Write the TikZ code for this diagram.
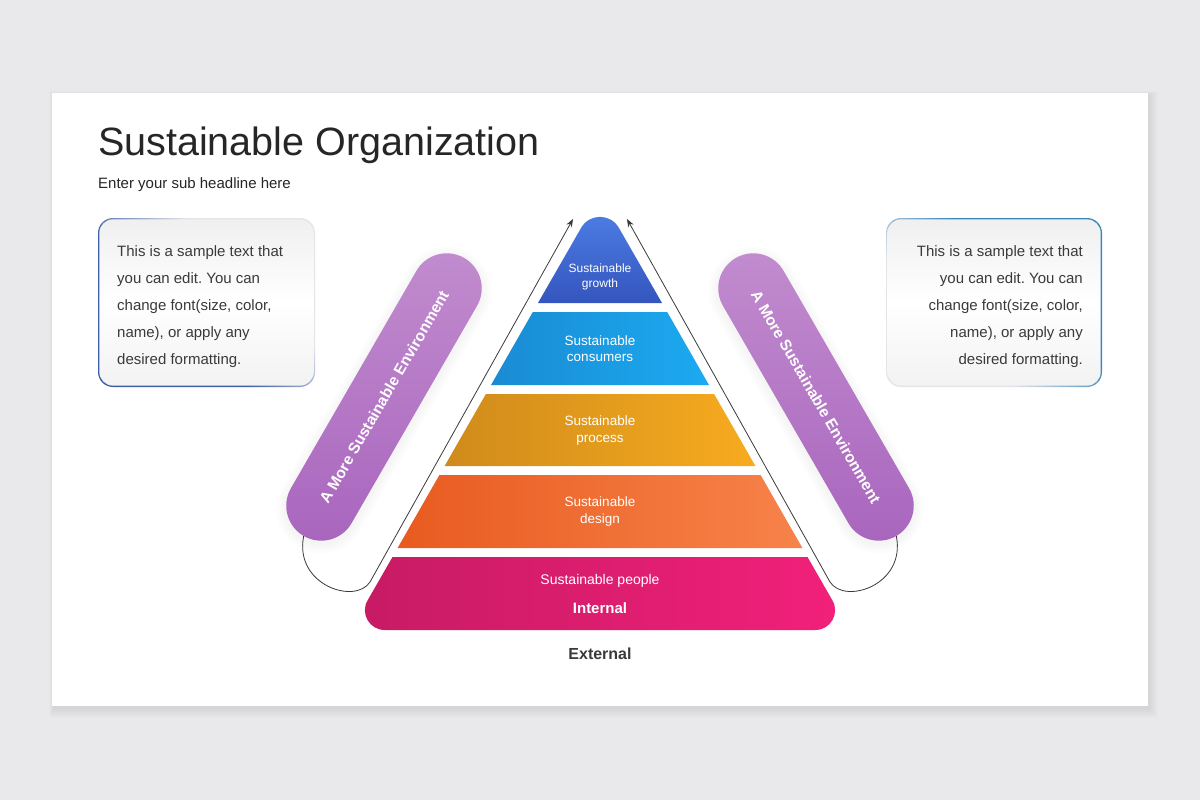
\documentclass[tikz,border=0pt]{standalone}
\usepackage{fontspec}
\setmainfont{Liberation Sans}
\usetikzlibrary{arrows.meta}
\frenchspacing
\definecolor{bg}{HTML}{E9E8EA}
\definecolor{titlec}{HTML}{262626}
\definecolor{bodyc}{HTML}{3A3A3A}
\definecolor{growthT}{HTML}{4C7DE3}
\definecolor{growthB}{HTML}{3455BE}
\definecolor{consL}{HTML}{1A8BD3}
\definecolor{consR}{HTML}{1BAAF0}
\definecolor{procL}{HTML}{CF8B1B}
\definecolor{procR}{HTML}{F7AB1F}
\definecolor{desL}{HTML}{E85B20}
\definecolor{desR}{HTML}{F7834A}
\definecolor{peopL}{HTML}{C71B64}
\definecolor{peopR}{HTML}{F2207A}
\definecolor{pillT}{HTML}{C28DCF}
\definecolor{pillB}{HTML}{A864BD}
\definecolor{blueL}{HTML}{3C5FA6}
\definecolor{blueR}{HTML}{3D87B8}
\definecolor{bgray}{HTML}{E4E4EA}
\definecolor{linec}{HTML}{3A3A3A}
\pgfdeclareverticalshading{bordL}{100bp}{color(0bp)=(blueL); color(42bp)=(blueL); color(62bp)=(bgray); color(100bp)=(bgray)}
\pgfdeclareverticalshading{bordR}{100bp}{color(0bp)=(blueR); color(42bp)=(blueR); color(62bp)=(bgray); color(100bp)=(bgray)}
\tikzset{
  layerlabel/.style={text=white, align=center, inner sep=0pt, font=\fontsize{13.5}{16.5}\selectfont},
  boxline/.style={text=bodyc, inner sep=0pt, font=\fontsize{15}{18}\selectfont},
  pill/.style={rectangle, rounded corners=35pt, minimum width=321pt, minimum height=70pt,
    inner sep=0pt, top color=pillT, bottom color=pillB, text=white,
    font=\bfseries\fontsize{15.5}{18}\selectfont},
  conn/.style={draw=linec, line width=0.8pt, -{Stealth[length=8pt,width=6pt]}},
  boxfill/.style={top color=black!6, bottom color=black!5, middle color=white}
}
\begin{document}
\begin{tikzpicture}[x=1pt,y=-1pt]
\useasboundingbox (0,0) rectangle (1200,800);
\fill[bg] (0,0) rectangle (1200,800);
% card shadow
\foreach \i in {1,...,10}{
  \fill[black,opacity=0.007] ({52-\i*0.5+2},{93-\i*0.5+3}) rectangle ({1148+\i},{706+\i+2});
}
\node[fill=white, minimum width=1096pt, minimum height=613pt, inner sep=0pt] (card) at (600,399.5) {};

% titles
\node[anchor=base west, inner sep=0pt, text=titlec, font=\fontsize{39.5}{41}\selectfont] (title) at (98,155) {Sustainable Organization};
\node[anchor=base west, inner sep=0pt, text=titlec, font=\fontsize{15}{18}\selectfont] (sub) at (98,188) {Enter your sub headline here};

% left text box
\shade[shading=bordL, shading angle=-45, rounded corners=15pt] (98,218) rectangle (315,387);
\shade[boxfill, rounded corners=14pt] (99.3,219.3) rectangle (313.7,385.7);
\foreach \t [count=\k] in {This is a sample text that, you can edit. You can, {change font(size, color,}, {name), or apply any}, desired formatting.}{
  \node[boxline, anchor=base west] (lt\k) at (117,{256+27*(\k-1)}) {\t};
}
% right text box
\shade[shading=bordR, shading angle=135, rounded corners=15pt] (886,218) rectangle (1102,387);
\shade[boxfill, rounded corners=14pt] (887.3,219.3) rectangle (1100.7,385.7);
\foreach \t [count=\k] in {This is a sample text that, you can edit. You can, {change font(size, color,}, {name), or apply any}, desired formatting.}{
  \node[boxline, anchor=base east] (rt\k) at (1083,{256+27*(\k-1)}) {\t};
}

% pyramid layers
\shade[top color=growthT, bottom color=growthB] (538,303) -- (581.1,227.9) .. controls (589.5,213.2) and (610.5,213.2) .. (618.9,227.9) -- (662,303) -- cycle;
\shade[left color=consL, right color=consR] (532.8,312) -- (667.2,312) -- (709,385) -- (491,385) -- cycle;
\shade[left color=procL, right color=procR] (485.9,394) -- (714.1,394) -- (755.4,466) -- (444.6,466) -- cycle;
\shade[left color=desL, right color=desR] (439.4,475) -- (760.6,475) -- (802.4,548) -- (397.6,548) -- cycle;
\shade[left color=peopL, right color=peopR] (392.5,557) -- (807.5,557) -- (832.5,600.5) .. controls (840,613.6) and (830.5,630) .. (815.4,630) -- (384.6,630) .. controls (369.5,630) and (360,613.6) .. (367.5,600.5) -- cycle;

\node[layerlabel, font=\fontsize{12}{15}\selectfont] (growth) at (600,276.5) {Sustainable\\growth};
\node[layerlabel] (consumers) at (600,348.5) {Sustainable\\consumers};
\node[layerlabel] (process) at (600,430.5) {Sustainable\\process};
\node[layerlabel] (design) at (600,511.5) {Sustainable\\design};
\node[text=white, inner sep=0pt, font=\fontsize{14}{16}\selectfont] (people) at (600,581) {Sustainable people};
\node[text=white, inner sep=0pt, font=\bfseries\fontsize{15}{17}\selectfont] (internal) at (600,608.5) {Internal};
\node[text=bodyc, inner sep=0pt, font=\bfseries\fontsize{16}{18}\selectfont] (external) at (600,654) {External};

% pill anchors (invisible)
\path node[pill, rotate=60, opacity=0] (lpillA) at (384,397) {}
      node[pill, rotate=-60, opacity=0] (rpillA) at (816,397) {};
\coordinate (ltip) at (573,219);
\coordinate (rtip) at (627,219);
\draw[conn] (lpillA.west) .. controls (294,585) and (355,605) .. (370,582) -- (ltip);
\draw[conn] (rpillA.east) .. controls (906,585) and (845,605) .. (830,582) -- (rtip);

% pill shadows
\foreach \i in {2,4,...,10}{
  \fill[black,opacity=0.008,rotate around={60:(384,400)},rounded corners={(35+\i)*1pt}] ({384-160.5-\i},{400-35-\i}) rectangle ({384+160.5+\i},{400+35+\i});
  \fill[black,opacity=0.008,rotate around={-60:(816,400)},rounded corners={(35+\i)*1pt}] ({816-160.5-\i},{400-35-\i}) rectangle ({816+160.5+\i},{400+35+\i});
}
\node[pill, rotate=60] (lpill) at (384,397) {A More Sustainable Environment};
\node[pill, rotate=-60] (rpill) at (816,397) {A More Sustainable Environment};
\end{tikzpicture}
\end{document}
